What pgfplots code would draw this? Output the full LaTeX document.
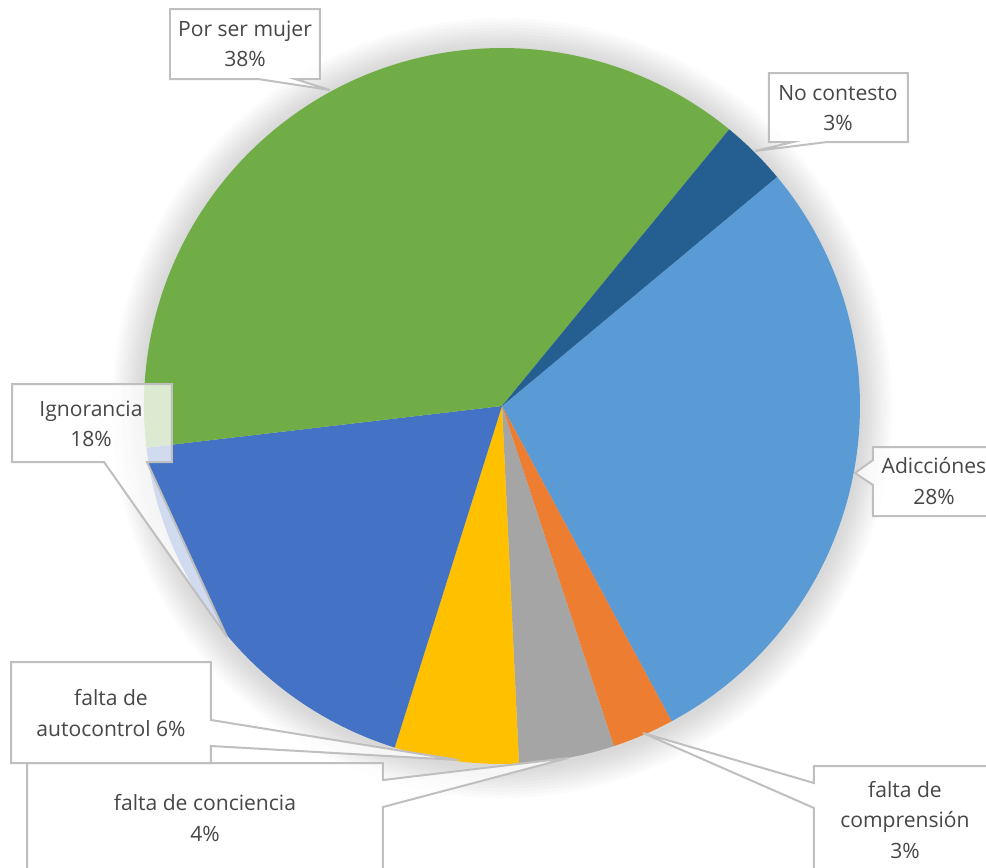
\documentclass[border=0pt]{standalone}
\usepackage{pgfplots}
\usepackage{pgfplotstable}
\pgfplotsset{compat=1.18}
\usepackage{fontspec}
\setmainfont{Open Sans}
\definecolor{pc0}{HTML}{5B9BD5}
\definecolor{pc1}{HTML}{ED7D31}
\definecolor{pc2}{HTML}{A5A5A5}
\definecolor{pc3}{HTML}{FFC000}
\definecolor{pc4}{HTML}{4472C4}
\definecolor{pc5}{HTML}{70AD47}
\definecolor{pc6}{HTML}{255E91}
\definecolor{bord}{HTML}{BFBFBF}
\definecolor{tgray}{HTML}{474747}

\pgfplotstableread{
label value
Adicciones 28.2
Comprension 2.8
Conciencia 4.3
Autocontrol 5.6
Ignorancia 18.3
Mujer 37.8
NoContesto 3.0
}\piedata

\def\piestart{39.8}
\xdef\cur{\piestart}
\foreach \i in {0,...,6}{%
  \pgfplotstablegetelem{\i}{value}\of\piedata
  \pgfmathsetmacro\nxt{\cur-3.6*\pgfplotsretval}%
  \expandafter\xdef\csname pieS\i\endcsname{\cur}%
  \expandafter\xdef\csname pieE\i\endcsname{\nxt}%
  \xdef\cur{\nxt}%
}

\tikzset{callout/.style={fill=white, fill opacity=0.75, draw=bord, draw opacity=1, line width=0.5mm, line join=miter},
  lab/.style={text=tgray, align=center, font=\fontsize{15}{21.5}\selectfont, text opacity=1}}

\begin{document}
\begin{tikzpicture}
\begin{axis}[x=0.25mm, y=0.25mm, xmin=0, xmax=986, ymin=0, ymax=867,
  y dir=reverse, hide axis, scale only axis, clip=false]
% soft shadow
\pgfplotsinvokeforeach{1,...,10}{
  \fill[black, opacity=0.017] (502,408) circle[radius=89.5mm+#1*0.8mm];
}
% slices
\pgfplotsinvokeforeach{0,...,6}{
  \edef\tmp{\noexpand\fill[pc#1] (axis cs:502,406) -- ++(\csname pieS#1\endcsname:89.5mm) arc[start angle=\csname pieS#1\endcsname, end angle=\csname pieE#1\endcsname, radius=89.5mm] -- cycle;}
  \tmp
}
% callouts
\filldraw[callout] (170,9) -- (320,9) -- (320,79) -- (295,79) -- (330,90) -- (258,79) -- (170,79) -- cycle;
\filldraw[callout] (769,73) -- (908,73) -- (908,142) -- (827,142) -- (755,151) -- (793,142) -- (769,142) -- cycle;
\filldraw[callout] (873,447) -- (1000,447) -- (1000,516) -- (873,516) -- (873,485) -- (855,473) -- (873,460) -- cycle;
\filldraw[callout] (12,384) -- (172,384) -- (172,462) -- (147,462) -- (227,637) -- (104,462) -- (12,462) -- cycle;
\filldraw[callout] (27,763) -- (383,763) -- (383,780) -- (568,758) -- (383,807) -- (383,900) -- (27,900) -- cycle;
\filldraw[callout] (11,662) -- (211,662) -- (211,720) -- (458,760) -- (211,746) -- (211,763) -- (11,763) -- cycle;
\filldraw[callout] (814,766) -- (1000,766) -- (1000,900) -- (814,900) -- (814,808) -- (643,733) -- (814,783) -- cycle;
% labels
\node[lab] at (245,44) {Por ser mujer\\38\%};
\node[lab] at (838,108) {No contesto\\3\%};
\node[lab] at (934,481) {Adicciónes\\28\%};
\node[lab] at (91,424) {Ignorancia\\18\%};
\node[lab] at (111,713) {falta de\\autocontrol 6\%};
\node[lab] at (205,818) {falta de conciencia\\4\%};
\node[lab] at (905,820) {falta de\\comprensión\\3\%};
\end{axis}
\pgfresetboundingbox
\path (0,0) rectangle (246.5mm,216.75mm);
\end{tikzpicture}
\end{document}
